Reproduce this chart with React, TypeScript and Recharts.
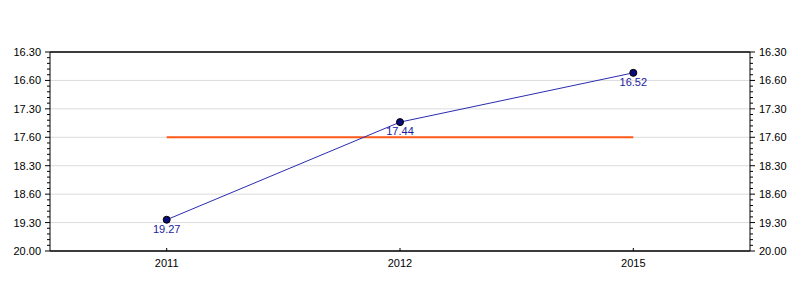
import React from "react"
import { CartesianGrid, LabelList, Line, LineChart, XAxis, YAxis } from "recharts"

// values are read as minutes.seconds
const years = ["2011", "2012", "2015"]
const times = ["19.27", "17.44", "16.52"]
const target = [18, 18, 18]

const majorTicks = [16.5, 17, 17.5, 18, 18.5, 19, 19.5, 20]
const majorLabels = ["16.30", "16.60", "17.30", "17.60", "18.30", "18.60", "19.30", "20.00"]

const toMinutes = (s: string) => {
  const [m, sec] = s.split(".")
  return Number(m) + Number(sec) / 60
}

const data = years.map((year, i) => ({
  year,
  time: toMinutes(times[i]),
  label: times[i],
  target: target[i],
}))

// minor ticks every 0.1 min
const allTicks: number[] = []
for (let i = 0; i <= 35; i++) allTicks.push(Math.round((16.5 + i * 0.1) * 10) / 10)

const font = "'Liberation Sans', Arial, sans-serif"

function YTick(props: any) {
  const { x, y, payload, side } = props
  const idx = majorTicks.findIndex((t) => Math.abs(t - payload.value) < 1e-6)
  const major = idx >= 0
  const len = major ? 5 : 3
  const dir = side === "left" ? -1 : 1
  return (
    <g>
      <line x1={x} x2={x + dir * len} y1={y} y2={y} stroke="#000" strokeWidth={1} />
      {major && (
        <text
          x={x + dir * 9}
          y={y}
          dy={4}
          textAnchor={side === "left" ? "end" : "start"}
          fontSize={11}
          fontFamily={font}
          fill="#000"
        >
          {majorLabels[idx]}
        </text>
      )}
    </g>
  )
}

function XTick(props: any) {
  const { x, y, payload } = props
  return (
    <g>
      <line x1={x} x2={x} y1={y} y2={y - 3} stroke="#000" strokeWidth={1} />
      <text x={x} y={y} dy={16} textAnchor="middle" fontSize={11} fontFamily={font} fill="#000">
        {payload.value}
      </text>
    </g>
  )
}

const pad = { left: 116.7, right: 116.7 }

export default function App() {
  return (
    <div style={{ position: "absolute", left: 0, top: 0, width: 800, height: 300, background: "#fff" }}>
      <LineChart width={800} height={300} data={data} margin={{ top: 51, right: 0, bottom: 19, left: 0 }}>
        <CartesianGrid vertical={false} stroke="#dcdcdc" yAxisId="left" horizontalValues={majorTicks} />
        <XAxis
          dataKey="year"
          height={30}
          padding={pad}
          axisLine={{ stroke: "#000", strokeWidth: 1.5 }}
          tickLine={false}
          tickSize={0}
          tickMargin={0}
          tick={<XTick />}
        />
        <XAxis
          xAxisId="top"
          orientation="top"
          dataKey="year"
          height={1}
          padding={pad}
          tick={false}
          tickLine={false}
          axisLine={{ stroke: "#000", strokeWidth: 1.5 }}
        />
        <YAxis
          yAxisId="left"
          width={50}
          reversed
          domain={[16.5, 20]}
          ticks={allTicks}
          interval={0}
          axisLine={{ stroke: "#000" }}
          tickLine={false}
          tickSize={0}
          tickMargin={0}
          tick={<YTick side="left" />}
        />
        <YAxis
          yAxisId="right"
          orientation="right"
          width={50}
          reversed
          domain={[16.5, 20]}
          ticks={allTicks}
          interval={0}
          axisLine={{ stroke: "#000" }}
          tickLine={false}
          tickSize={0}
          tickMargin={0}
          tick={<YTick side="right" />}
        />
        <Line
          xAxisId="top"
          yAxisId="right"
          dataKey="target"
          stroke="#ff5a1a"
          strokeWidth={2}
          dot={false}
          activeDot={false}
          isAnimationActive={false}
        />
        <Line
          yAxisId="left"
          dataKey="time"
          stroke="#2b2bb0"
          strokeWidth={1}
          dot={{ r: 3.5, fill: "#0b0b7a", stroke: "#000", strokeWidth: 1 }}
          activeDot={false}
          isAnimationActive={false}
        >
          <LabelList dataKey="label" position="bottom" offset={5} fill="#1a1aa0" fontSize={11} fontFamily={font} />
        </Line>
      </LineChart>
    </div>
  )
}
